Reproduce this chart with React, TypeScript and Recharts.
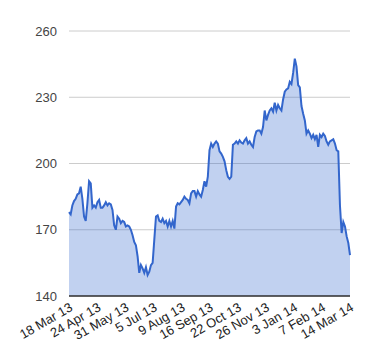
import { AreaChart, Area, XAxis, YAxis, CartesianGrid } from 'recharts'

const dateLabels = [
  '18 Mar 13',
  '24 Apr 13',
  '31 May 13',
  '5 Jul 13',
  '9 Aug 13',
  '16 Sep 13',
  '22 Oct 13',
  '26 Nov 13',
  '3 Jan 14',
  '7 Feb 14',
  '14 Mar 14',
]

const yTicks = [140, 170, 200, 230, 260]

// closing prices (evenly spaced samples)
const prices = [
  178, 177, 181, 183, 184, 186, 186.5, 189.5, 184, 176, 174, 182, 192, 191, 180, 181, 180,
  182.5, 183.5, 180, 180, 181, 182.5, 181, 182, 181.5, 179, 172, 170, 176, 175, 173, 174,
  173.5, 171.5, 172, 171.5, 170, 167.5, 164.5, 163, 158, 150.5, 154, 152.5, 150.5, 153,
  149.5, 151, 154, 155, 165.5, 176, 176.5, 174, 173.5, 175, 173, 174, 171.5, 174, 171.5,
  174, 170.5, 180.5, 182, 181.5, 182.5, 183.5, 185, 184, 183.5, 182, 186.5, 187.5, 187.5,
  185, 187.5, 186, 185, 188, 192, 189.5, 194, 206,
  209, 207.5, 209, 210, 209, 205.5, 204.5, 203, 201, 197, 194, 193, 194, 208.5, 209, 210,
  209, 210.5, 209.5, 209, 210.5, 211.5, 209, 210, 208.5, 207.5, 212, 214.5, 215, 215,
  213.5, 216.5, 224, 219.5, 222, 224, 225, 223.5, 227.5, 224, 226.5, 225, 224, 229, 232.5,
  233.5, 234, 237, 236, 241, 247.5, 244, 235.5, 234.5, 226, 222.5, 219.5, 213.5, 215,
  213.5, 211.5, 213, 211, 213, 207.5, 213, 212, 213.5, 212.5, 210, 208.5, 210, 210.5, 211,
  209, 206, 205.5, 181, 168.5, 173.5, 171.5, 167, 164, 158.5,
]

const data = prices.map((price, i) => ({
  t: (i * (dateLabels.length - 1)) / (prices.length - 1),
  price,
}))

const FONT = '"Liberation Sans", Arial, sans-serif'

// eslint-disable-next-line @typescript-eslint/no-explicit-any
function DateTick({ x, y, payload }: any) {
  return (
    <text
      x={x}
      y={y}
      dy="0.71em"
      textAnchor="end"
      transform={`rotate(-30 ${x} ${y})`}
      fill="#222"
      fontSize={13}
      fontFamily={FONT}
    >
      {dateLabels[payload.value]}
    </text>
  )
}

export default function App() {
  return (
    <div style={{ position: 'absolute', left: 0, top: 0, background: '#fff' }}>
      <AreaChart
        width={380}
        height={360}
        data={data}
        margin={{ top: 31, right: 30, bottom: 0, left: 0 }}
      >
        <CartesianGrid vertical={false} stroke="#ccc" />
        <XAxis
          type="number"
          dataKey="t"
          domain={[0, dateLabels.length - 1]}
          ticks={dateLabels.map((_, i) => i)}
          interval={0}
          height={64}
          tickLine={false}
          tickSize={0}
          tickMargin={6}
          axisLine={{ stroke: '#333', strokeWidth: 1.5 }}
          tick={<DateTick />}
        />
        <YAxis
          domain={[140, 260]}
          ticks={yTicks}
          width={69}
          axisLine={false}
          tickLine={false}
          tickSize={0}
          tickMargin={12}
          tick={{ fill: '#444', fontSize: 13, fontFamily: FONT }}
        />
        <Area
          type="linear"
          dataKey="price"
          stroke="#3366cc"
          strokeWidth={2}
          fill="#3366cc"
          fillOpacity={0.3}
          dot={false}
          isAnimationActive={false}
        />
      </AreaChart>
    </div>
  )
}
